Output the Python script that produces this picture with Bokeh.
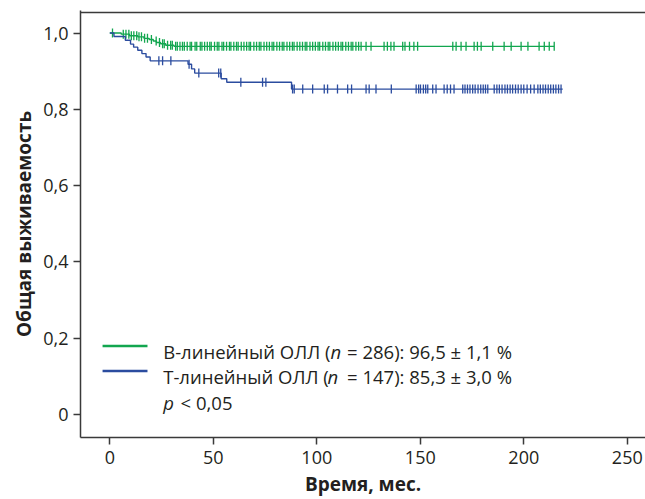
import numpy as np
from bokeh.plotting import figure
from bokeh.models import Label, Span, FixedTicker
from bokeh.embed import file_html
from bokeh.resources import INLINE

# Kaplan–Meier curves: event times (months) and survival just after each event
b_event_times = [5.5, 9.5, 13.5, 16.5, 19.0, 21.0, 22.5, 24.5, 27.0, 31.0]
b_event_surv = [0.997, 0.993, 0.990, 0.986, 0.983, 0.979, 0.975, 0.972, 0.968, 0.965]
b_end = 214.7
b_censored = [1.3, 6.5, 7.8, 9.2, 10.4, 11.6, 13.0, 14.1, 15.3, 16.8, 18.2, 20.1,
              22.4, 24.0, 25.5, 26.3, 27.9, 29.4, 30.2, 31.8, 32.6, 33.9, 35.1, 36.0,
              37.4, 38.8, 39.5, 41.2, 42.0, 43.7, 44.5, 45.8, 47.1, 48.3, 49.0, 50.6,
              51.9, 52.7, 54.2, 55.0, 56.4, 57.8, 58.5, 59.9, 61.2, 62.0, 63.5, 64.8,
              66.1, 67.3, 68.0, 69.6, 70.9, 72.2, 73.0, 74.5, 75.8, 77.1, 78.4, 79.2,
              80.7, 82.0, 83.3, 84.1, 85.6, 86.9, 88.2, 89.0, 90.5, 91.8, 93.1, 94.4,
              95.2, 96.7, 98.0, 99.3, 100.6, 101.4, 102.9, 104.2, 105.5, 106.3, 107.8,
              109.1, 110.4, 111.7, 112.5, 114.0, 115.3, 116.6, 117.4, 118.9, 120.2,
              121.4, 123.8, 126.2, 132.5, 134.1, 135.8, 137.3, 141.5, 142.6, 144.8,
              146.9, 148.7, 165.7, 167.3, 169.7, 172.1, 176.0, 177.6, 179.4, 185.0,
              190.5, 193.9, 198.7, 202.0, 207.4, 209.9, 212.3, 214.7]

t_event_times = [2.0, 7.5, 10.0, 11.5, 13.5, 15.5, 17.5, 19.5, 37.8, 39.5, 41.0, 53.8, 56.5, 87.8]
t_event_surv = [0.991, 0.981, 0.971, 0.963, 0.955, 0.946, 0.937, 0.927, 0.918, 0.906,
                0.895, 0.880, 0.871, 0.853]
t_end = 218.8
t_censored = [23.7, 25.5, 29.5, 38.3, 43.0, 52.6, 53.6, 63.3, 73.8, 75.4, 88.3, 89.1,
              93.2, 98.0, 103.6, 105.2, 110.0, 114.9, 116.8, 123.8, 125.3, 128.6, 136.0,
              148.0, 149.2, 150.1, 151.5, 152.6, 153.6, 156.0, 157.6, 161.5, 163.0,
              164.6, 166.3, 170.5, 171.6, 172.8, 174.0, 175.3, 176.5, 177.9, 179.2,
              180.4, 181.5, 182.6, 185.7, 187.0, 188.2, 189.5, 190.9, 192.1, 193.4,
              194.6, 196.0, 197.3, 198.7, 200.0, 201.6, 203.3, 205.0, 206.8, 208.0,
              209.3, 210.5, 211.8, 213.0, 214.3, 215.5, 216.8, 218.0]

x_ticks = [0, 50, 100, 150, 200, 250]
y_ticks = [0, 0.2, 0.4, 0.6, 0.8, 1.0]
y_tick_labels = ["0", "0,2", "0,4", "0,6", "0,8", "1,0"]

GREEN = "#12a64f"
BLUE = "#2b4c9f"
INK = "#231f20"
AXIS = "#3a3a3a"
FONT = "Open Sans"


def km_step(times, surv, end):
    xs = [0.0] + list(times) + [end]
    ys = [1.0] + list(surv) + [surv[-1]]
    return xs, ys


def surv_at(times, surv, t):
    xs = np.array([0.0] + list(times))
    ys = np.array([1.0] + list(surv))
    idx = np.searchsorted(xs, np.asarray(t), side="right") - 1
    return ys[idx]


p = figure(width=645, height=499, output_backend="svg", toolbar_location=None,
           x_range=(-14.16, 258.8), y_range=(-0.06, 1.059),
           min_border_left=80, min_border_right=0, min_border_top=10,
           min_border_bottom=62)
p.outline_line_color = None
p.background_fill_color = "white"
p.border_fill_color = "white"
p.grid.visible = False

# top frame line
p.add_layout(Span(location=1.054, dimension="width", line_color=AXIS, line_width=1.5))

for ax in (p.xaxis[0], p.yaxis[0]):
    ax.axis_line_color = AXIS
    ax.axis_line_width = 1.5
    ax.major_tick_line_color = AXIS
    ax.major_tick_line_width = 1.5
    ax.major_tick_in = 0
    ax.major_tick_out = 7
    ax.minor_tick_line_color = None
    ax.major_label_text_font = FONT
    ax.major_label_text_font_size = "18px"
    ax.major_label_text_color = INK
    ax.axis_label_text_font = FONT
    ax.axis_label_text_font_size = "19px"
    ax.axis_label_text_font_style = "bold"
    ax.axis_label_text_color = INK

p.xaxis.ticker = FixedTicker(ticks=x_ticks)
p.yaxis.ticker = FixedTicker(ticks=y_ticks)
p.yaxis.major_label_overrides = {t: s for t, s in zip(y_ticks, y_tick_labels)}
p.xaxis.axis_label = "Время, мес."
p.yaxis.axis_label = "Общая выживаемость"
p.xaxis.major_label_standoff = 6
p.yaxis.major_label_standoff = 5
p.xaxis.axis_label_standoff = 4
p.yaxis.axis_label_standoff = 3

# survival curves
for times, surv, end, cens, color in (
        (b_event_times, b_event_surv, b_end, b_censored, GREEN),
        (t_event_times, t_event_surv, t_end, t_censored, BLUE)):
    xs, ys = km_step(times, surv, end)
    p.step(xs, ys, mode="after", line_color=color, line_width=1.4)
    p.scatter(cens, surv_at(times, surv, cens), marker="dash", angle=np.pi / 2,
              size=9, line_color=color, line_width=1.3)

# legend
p.line([-3.5, 18.2], [0.180, 0.180], line_color=GREEN, line_width=2.5)
p.line([-3.5, 18.2], [0.114, 0.114], line_color=BLUE, line_width=2.5)


def add_text(x, y, text, style="normal"):
    p.add_layout(Label(x=x, y=y, text=text, text_font=FONT, text_font_size="18.5px",
                       text_color=INK, text_font_style=style,
                       text_baseline="alphabetic", text_align="left"))


add_text(25.8, 0.165, "В-линейный ОЛЛ (")
add_text(106.6, 0.165, "n", "italic")
add_text(114.6, 0.165, "= 286): 96,5 ± 1,1 %")
add_text(25.8, 0.099, "Т-линейный ОЛЛ (")
add_text(105.2, 0.099, "n", "italic")
add_text(114.6, 0.099, "= 147): 85,3 ± 3,0 %")
add_text(25.8, 0.031, "p", "italic")
add_text(34.2, 0.031, "< 0,05")

open("out.html", "w").write(file_html(p, INLINE))
